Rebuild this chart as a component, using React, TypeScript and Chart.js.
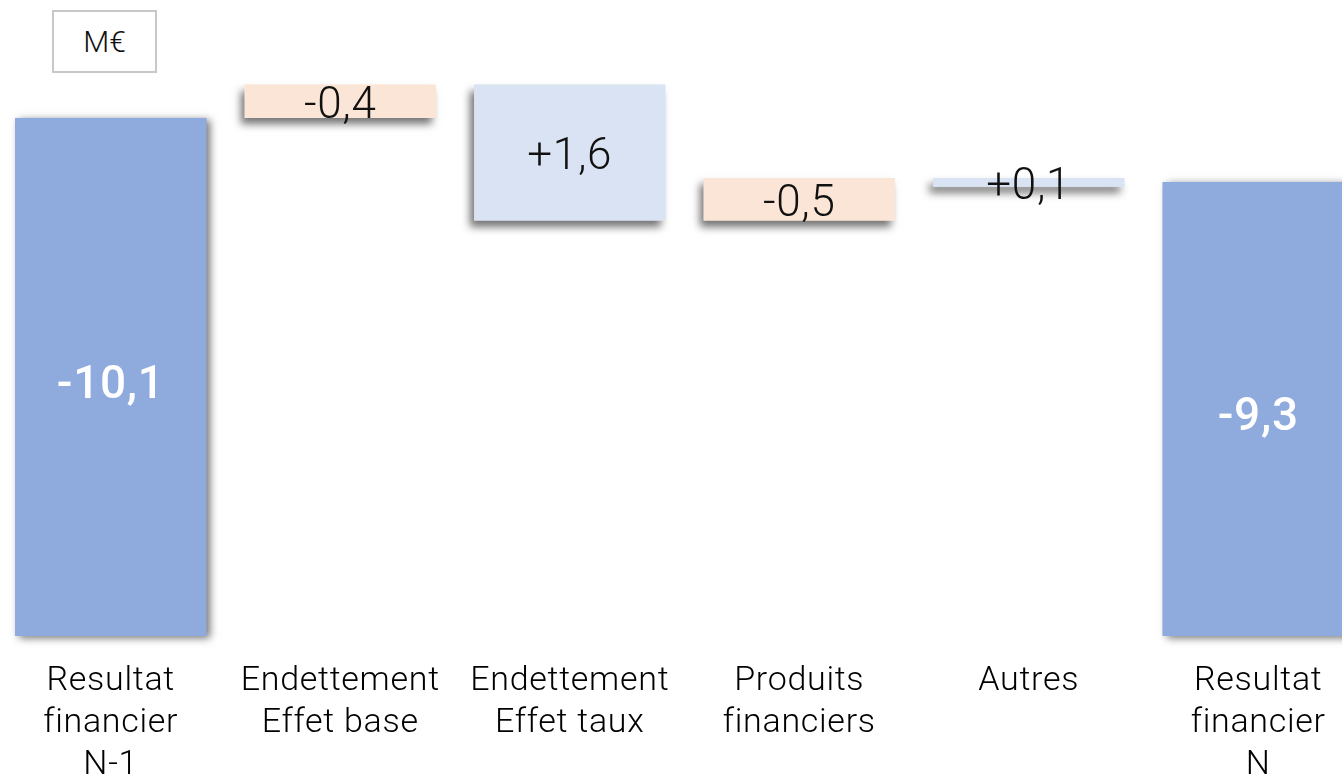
import React, { useEffect, useRef } from "react";
import { Chart, registerables } from "chart.js";

Chart.register(...registerables);

// ---- data (in M€ magnitude on the chart's scale) ----
const categories: string[][] = [
  ["Resultat", "financier", "N-1"],
  ["Endettement", "Effet base"],
  ["Endettement", "Effet taux"],
  ["Produits", "financiers"],
  ["Autres"],
  ["Resultat", "financier", "N"],
];
const barStarts = [0, 10.1, 8.1, 8.1, 8.76, 0];
const barEnds = [10.1, 10.75, 10.75, 8.93, 8.93, 8.85];
const valueLabels = ["-10,1", "-0,4", "+1,6", "-0,5", "+0,1", "-9,3"];
const barKinds = ["total", "decrease", "increase", "decrease", "increase", "total"];
const unitLabel = "M€";

// ---- styles ----
const FONT = "Roboto, 'Noto Sans', sans-serif";
const kindColor: Record<string, string> = {
  total: "#8FAADC",
  increase: "#DAE3F3",
  decrease: "#FBE5D6",
};

const spacingPlugin = {
  id: "letterSpacing",
  beforeDraw(chart: any) {
    try {
      (chart.ctx as any).letterSpacing = "0.7px";
    } catch (e) {}
  },
};

const shadowPlugin = {
  id: "barShadows",
  beforeDatasetsDraw(chart: any) {
    const meta = chart.getDatasetMeta(0);
    const ctx = chart.ctx;
    meta.data.forEach((el: any, i: number) => {
      const { x, y, base, width } = el.getProps(["x", "y", "base", "width"], true);
      const top = Math.min(y, base);
      const h = Math.abs(base - y);
      const isTotal = barKinds[i] === "total";
      ctx.save();
      ctx.shadowColor = "rgba(0,0,0,0.55)";
      ctx.shadowBlur = 8;
      ctx.shadowOffsetX = isTotal ? 4 : -4;
      ctx.shadowOffsetY = isTotal ? 2 : 6;
      ctx.fillStyle = kindColor[barKinds[i]];
      ctx.fillRect(x - width / 2, top, width, h);
      ctx.restore();
    });
  },
};

const valueLabelPlugin = {
  id: "valueLabels",
  afterDatasetsDraw(chart: any) {
    const meta = chart.getDatasetMeta(0);
    const ctx = chart.ctx;
    meta.data.forEach((el: any, i: number) => {
      const { x, y, base } = el.getProps(["x", "y", "base"], true);
      const isTotal = barKinds[i] === "total";
      const size = isTotal ? 46 : 44;
      const cy = (y + base) / 2 + (isTotal ? 5 : 1);
      ctx.save();
      ctx.font = `${isTotal ? 500 : 300} ${size}px ${FONT}`;
      ctx.fillStyle = isTotal ? "#FFFFFF" : "#111111";
      ctx.textAlign = "center";
      ctx.textBaseline = "alphabetic";
      ctx.fillText(valueLabels[i], x, cy + size * 0.355);
      ctx.restore();
    });
  },
};

export default function App() {
  const ref = useRef<HTMLCanvasElement | null>(null);

  useEffect(() => {
    if (!ref.current) return;
    const chart = new Chart(ref.current, {
      type: "bar",
      data: {
        labels: categories,
        datasets: [
          {
            data: barStarts.map((s, i) => [s, barEnds[i]]) as any,
            backgroundColor: barKinds.map((k) => kindColor[k]),
            borderWidth: 0,
            barPercentage: 0.833,
            categoryPercentage: 1,
          },
        ],
      },
      options: {
        animation: false,
        responsive: false,
        maintainAspectRatio: false,
        layout: { padding: 0 },
        plugins: {
          legend: { display: false },
          tooltip: { enabled: false },
          title: { display: false },
        },
        scales: {
          x: {
            grid: { display: false, drawTicks: false },
            border: { display: false },
            ticks: {
              color: "#000000",
              padding: 24,
              maxRotation: 0,
              autoSkip: false,
              font: { family: FONT, size: 34, weight: 300 as any, lineHeight: "42px" as any },
            },
          },
          y: {
            display: false,
            min: 0,
            max: 12.4,
          },
        },
      },
      plugins: [spacingPlugin, shadowPlugin, valueLabelPlugin],
    });
    return () => chart.destroy();
  }, []);

  return (
    <div
      style={{
        position: "fixed",
        left: 0,
        top: 0,
        width: 1342,
        height: 781,
        overflow: "hidden",
        background: "#FFFFFF",
      }}
    >
      <canvas
        ref={ref}
        width={1377}
        height={810}
        style={{ position: "absolute", left: -4, top: 0, display: "block" }}
      />
      <div
        style={{
          position: "absolute",
          left: 52,
          top: 10,
          width: 105,
          height: 63,
          boxSizing: "border-box",
          border: "2px solid #C8C8C8",
          display: "flex",
          alignItems: "center",
          justifyContent: "center",
          fontFamily: FONT,
          fontWeight: 300,
          fontSize: 30,
          color: "#111111",
          background: "#FFFFFF",
        }}
      >
        {unitLabel}
      </div>
    </div>
  );
}
